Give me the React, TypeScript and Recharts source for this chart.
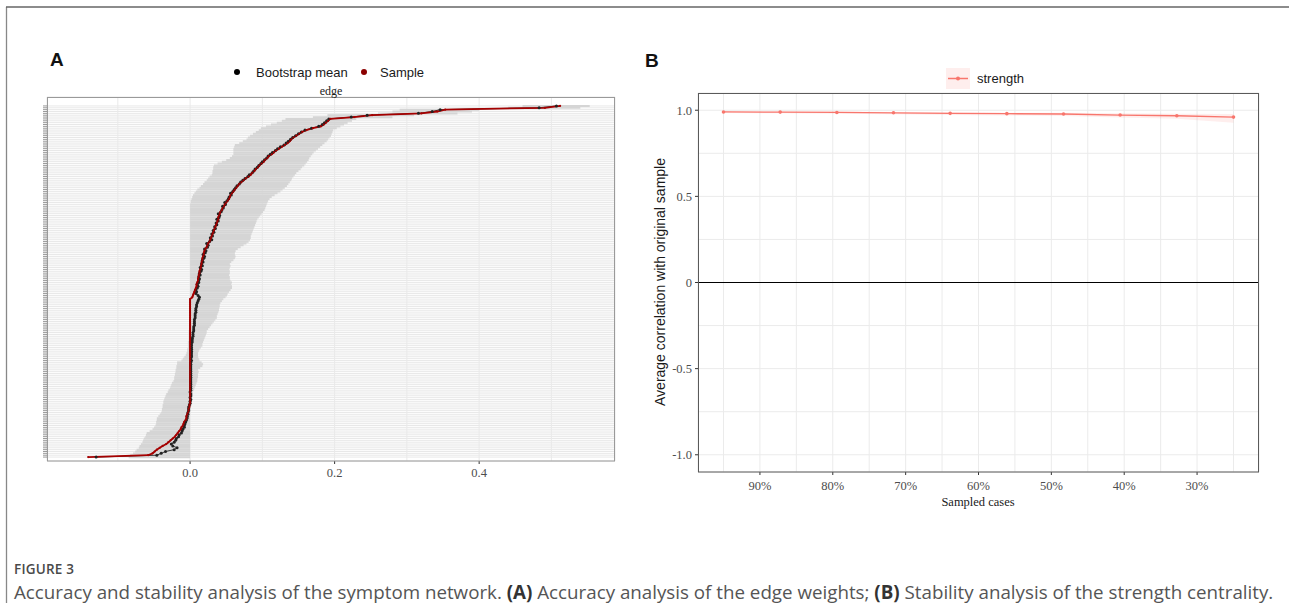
import React from 'react';
import { ComposedChart, Line, Bar, Area, XAxis, YAxis, CartesianGrid, ReferenceLine } from 'recharts';

// ---------------- Panel A : edge weight accuracy (rows bottom -> top) ----------------
const edgeSample = [
  -0.141, -0.058, -0.052, -0.049, -0.046, -0.042, -0.038, -0.033, -0.030, -0.027,
  -0.024, -0.021, -0.019, -0.017, -0.015, -0.013, -0.012, -0.010, -0.009, -0.008,
  -0.006, -0.005, -0.005, -0.004, -0.003, -0.002, -0.002, -0.001, -0.001,
  0, 0, 0, 0, 0, 0, 0, 0, 0, 0,
  0, 0, 0, 0, 0, 0, 0, 0, 0, 0,
  0, 0, 0, 0, 0, 0, 0, 0, 0, 0,
  0, 0, 0, 0, 0, 0, 0, 0, 0, 0,
  0, 0, 0, 0, 0, 0, 0, 0, 0, 0,
  0, 0, 0, 0, 0, 0, 0,
  0.003, 0.004, 0.005, 0.006, 0.007, 0.008, 0.009, 0.009, 0.010, 0.011,
  0.011, 0.012, 0.012, 0.013, 0.013, 0.014, 0.015, 0.015, 0.016, 0.016,
  0.017, 0.017, 0.018, 0.019, 0.019, 0.020, 0.021, 0.023, 0.024, 0.025,
  0.027, 0.028, 0.029, 0.030, 0.031, 0.032, 0.033, 0.034, 0.035, 0.036,
  0.037, 0.038, 0.039, 0.039, 0.040, 0.041, 0.042, 0.044, 0.045, 0.047,
  0.048, 0.050, 0.052, 0.054, 0.055, 0.056, 0.058, 0.060, 0.062, 0.064,
  0.066, 0.068, 0.071, 0.074, 0.077, 0.081, 0.084, 0.086, 0.089, 0.091,
  0.094, 0.096, 0.099, 0.102, 0.104, 0.107, 0.109, 0.113, 0.116, 0.119,
  0.123, 0.127, 0.131, 0.135, 0.138, 0.140, 0.143, 0.147, 0.151, 0.155,
  0.161, 0.170, 0.181, 0.185, 0.188, 0.191, 0.194,
  0.227, 0.252, 0.320, 0.342, 0.353, 0.491, 0.512,
];

const edgeBootMean = [
  -0.130, -0.046, -0.040, -0.034, -0.022, -0.018, -0.024, -0.026, -0.022, -0.020,
  -0.019, -0.016, -0.015, -0.012, -0.011, -0.010, -0.008, -0.008, -0.007, -0.006,
  -0.005, -0.004, -0.004, -0.003, -0.003, -0.002, -0.002, -0.002, -0.001,
  0.000, 0.000, 0.001, 0.000, 0.001, 0.001, 0.000, 0.001, 0.001, 0.001,
  0.001, 0.001, 0.001, 0.001, 0.001, 0.001, 0.001, 0.001, 0.001, 0.001,
  0.001, 0.001, 0.001, 0.002, 0.001, 0.002, 0.002, 0.002, 0.002, 0.002,
  0.002, 0.002, 0.002, 0.003,
  0.003, 0.003, 0.004, 0.004, 0.004, 0.005, 0.005, 0.005, 0.006, 0.006,
  0.006, 0.006, 0.007, 0.007, 0.007, 0.008, 0.008, 0.008, 0.009, 0.009,
  0.010, 0.011, 0.012,
  0.013, 0.011, 0.008, 0.009, 0.008, 0.010, 0.011, 0.010, 0.012, 0.012,
  0.013, 0.012, 0.014, 0.013, 0.015, 0.016, 0.014, 0.017, 0.016, 0.018,
  0.017, 0.019, 0.020, 0.018, 0.021, 0.022, 0.020, 0.024, 0.025, 0.023,
  0.027, 0.030, 0.028, 0.031, 0.030, 0.033, 0.032, 0.035, 0.034, 0.037,
  0.036, 0.039, 0.037, 0.040, 0.041, 0.039, 0.043, 0.044, 0.046, 0.045,
  0.049, 0.048, 0.051, 0.053, 0.054, 0.057, 0.056, 0.059, 0.061, 0.063,
  0.065, 0.068, 0.070, 0.073, 0.076, 0.080, 0.082, 0.086, 0.088, 0.090,
  0.093, 0.095, 0.098, 0.100, 0.103, 0.106, 0.108, 0.111, 0.114, 0.118,
  0.121, 0.125, 0.130, 0.133, 0.136, 0.139, 0.142, 0.146, 0.150, 0.154,
  0.159, 0.168, 0.178, 0.183, 0.186, 0.189, 0.192,
  0.223, 0.245, 0.316, 0.335, 0.346, 0.483, 0.507,
];

const edgeCiLow = [
  -0.085, -0.083, -0.079, -0.076, -0.074, -0.071, -0.070, -0.068, -0.066, -0.065,
  -0.064, -0.062, -0.061, -0.060, -0.056, -0.052, -0.050, -0.048, -0.047, -0.047,
  -0.046, -0.046, -0.044, -0.042, -0.040, -0.039, -0.039, -0.038, -0.038, -0.037,
  -0.037, -0.036, -0.035, -0.034, -0.033, -0.031, -0.030, -0.028, -0.027, -0.026,
  -0.025, -0.023, -0.022, -0.022, -0.021, -0.021, -0.020, -0.020, -0.019, -0.019,
  -0.018, -0.018, -0.012, -0.010, -0.008, -0.006, -0.005, -0.004, -0.004, -0.003,
  -0.003, -0.003, -0.003, -0.002, -0.002, -0.002, -0.002, -0.002, -0.002, -0.001,
  -0.001, -0.001, -0.001, -0.001,
  0, 0, 0, 0, 0, 0, 0, 0, 0, 0,
  0, 0, 0, 0, 0, 0, 0, 0, 0, 0,
  0, 0, 0, 0, 0, 0, 0, 0, 0, 0,
  0, 0, 0, 0, 0, 0, 0, 0, 0, 0,
  0, 0, 0, 0, 0, 0, 0, 0, 0, 0,
  0, 0, 0, 0, 0, 0, 0, 0, 0, 0,
  0, 0,
  0.000, 0.001, 0.001, 0.002, 0.003, 0.004, 0.006, 0.008, 0.010, 0.013,
  0.015, 0.018, 0.020, 0.023, 0.025, 0.027, 0.030, 0.031, 0.031, 0.032,
  0.032, 0.033, 0.038, 0.044, 0.050, 0.055, 0.058, 0.060, 0.060, 0.060,
  0.060, 0.061, 0.062, 0.068, 0.073, 0.078, 0.080, 0.083, 0.087, 0.091,
  0.095, 0.098, 0.105, 0.112, 0.120, 0.127, 0.132,
  0.170, 0.190, 0.260, 0.280, 0.290, 0.440, 0.460,
];

const edgeCiHigh = [
  0.000, 0.000, 0.000, 0.000, 0.000, 0.000, 0.000, 0.000, 0.000, 0.000,
  0.000, 0.000, 0.000, 0.000, 0.000, 0.000, 0.000, 0.000, 0.000, 0.000,
  0.000, 0.000, 0.000, 0.000, 0.000, 0.001, 0.001, 0.001, 0.002, 0.002,
  0.002, 0.003, 0.003, 0.004, 0.004, 0.004, 0.005, 0.006, 0.007, 0.008,
  0.009, 0.010, 0.010, 0.011, 0.011, 0.011, 0.012, 0.011, 0.014, 0.017,
  0.018, 0.016, 0.013, 0.012, 0.011, 0.011, 0.011, 0.012, 0.013, 0.015,
  0.017, 0.017, 0.018, 0.019, 0.020, 0.021, 0.022, 0.023, 0.023, 0.025,
  0.027, 0.029, 0.031, 0.033, 0.035, 0.037, 0.037, 0.038, 0.039, 0.040,
  0.040, 0.041, 0.041, 0.042, 0.044, 0.046, 0.049, 0.051, 0.052, 0.054,
  0.056, 0.058, 0.058, 0.057, 0.058, 0.056, 0.055, 0.055, 0.054, 0.055,
  0.055, 0.054, 0.055, 0.056, 0.055, 0.057, 0.060, 0.062, 0.063, 0.062,
  0.062, 0.063, 0.066, 0.070, 0.074, 0.078, 0.081, 0.083, 0.084, 0.084,
  0.085, 0.086, 0.087, 0.088, 0.089, 0.090, 0.091, 0.092, 0.093, 0.095,
  0.097, 0.099, 0.101, 0.103, 0.104, 0.105, 0.106, 0.107, 0.108, 0.110,
  0.113, 0.117, 0.121, 0.125, 0.128, 0.131, 0.134, 0.136, 0.138, 0.140,
  0.141, 0.143, 0.145, 0.147, 0.150, 0.153, 0.155, 0.158, 0.160, 0.162,
  0.164, 0.165, 0.167, 0.169, 0.171, 0.174, 0.177, 0.180, 0.183, 0.186,
  0.189, 0.191, 0.193, 0.195, 0.196, 0.197, 0.198, 0.203, 0.208, 0.213,
  0.218, 0.224, 0.230, 0.280, 0.310, 0.370, 0.390, 0.400, 0.540, 0.553,
];

const edgeGridTicks = [-0.1, 0, 0.1, 0.2, 0.3, 0.4, 0.5];
const edgeLabelTicks = [0, 0.2, 0.4];
const edgeLegendLabels = ['Bootstrap mean', 'Sample'];

// ---------------- Panel B : strength stability ----------------
const sampledCases = [95, 87.22, 79.44, 71.67, 63.89, 56.11, 48.33, 40.56, 32.78, 25];
const strengthCorr = [0.990, 0.989, 0.987, 0.985, 0.982, 0.980, 0.978, 0.972, 0.968, 0.960];
const strengthLow = [0.984, 0.982, 0.980, 0.977, 0.973, 0.970, 0.966, 0.958, 0.950, 0.928];
const strengthHigh = [0.994, 0.993, 0.992, 0.990, 0.988, 0.986, 0.985, 0.982, 0.980, 0.978];
const caseGridTicks = [95, 90, 85, 80, 75, 70, 65, 60, 55, 50, 45, 40, 35, 30, 25];
const caseLabelTicks = [90, 80, 70, 60, 50, 40, 30];
const corrGridTicks = [-1, -0.75, -0.5, -0.25, 0, 0.25, 0.5, 0.75, 1];
const corrLabelTicks = [-1, -0.5, 0, 0.5, 1];
const corrLabelText = ['-1.0', '-0.5', '0', '0.5', '1.0'];

const edgeData = edgeSample.map((s, i) => ({
  id: `e${i}`,
  sample: s,
  boot: edgeBootMean[i],
  ci: [edgeCiLow[i], edgeCiHigh[i]],
}));

const stabilityData = sampledCases.map((c, i) => ({
  cases: c,
  corr: strengthCorr[i],
  band: [strengthLow[i], strengthHigh[i]],
}));

const SERIF = '"Liberation Serif", "Times New Roman", serif';
const SANS = '"Liberation Sans", Arial, sans-serif';
const CAPTION = '"Open Sans", "Noto Sans", sans-serif';
const SAMPLE_RED = '#a50000';

const EdgeXTick = (props: any) => {
  const { x, y, payload } = props;
  const v = payload.value;
  const idx = edgeLabelTicks.findIndex((t) => Math.abs(t - v) < 1e-9);
  if (idx < 0) return <g />;
  return (
    <g>
      <line x1={x} x2={x} y1={y - 3} y2={y} stroke="#333" strokeWidth={1} />
      <text x={x} y={y + 4} dy="0.71em" textAnchor="middle" fontFamily={SERIF} fontSize={12.5} fill="#4d4d4d">
        {v.toFixed(1)}
      </text>
    </g>
  );
};

const CaseXTick = (props: any) => {
  const { x, y, payload } = props;
  const v = payload.value;
  if (!caseLabelTicks.includes(v)) return <g />;
  return (
    <g>
      <line x1={x} x2={x} y1={y - 3} y2={y} stroke="#333" strokeWidth={1} />
      <text x={x} y={y + 6} dy="0.71em" textAnchor="middle" fontFamily={SERIF} fontSize={12.5} fill="#4d4d4d">
        {`${v}%`}
      </text>
    </g>
  );
};

const CorrYTick = (props: any) => {
  const { x, y, payload } = props;
  const idx = corrLabelTicks.findIndex((t) => Math.abs(t - payload.value) < 1e-9);
  if (idx < 0) return <g />;
  return (
    <g>
      <line x1={x} x2={x + 3} y1={y} y2={y} stroke="#333" strokeWidth={1} />
      <text x={x - 3} y={y} dy="0.35em" textAnchor="end" fontFamily={SERIF} fontSize={12.5} fill="#4d4d4d">
        {corrLabelText[idx]}
      </text>
    </g>
  );
};

export default function App() {
  return (
    <div style={{ position: 'absolute', left: 0, top: 0, width: 1289, height: 603, background: '#fff', overflow: 'hidden' }}>
      {/* Panel A */}
      <div style={{ position: 'absolute', left: 0, top: 0 }}>
        <ComposedChart
          width={640}
          height={500}
          data={edgeData}
          layout="vertical"
          barCategoryGap={0}
          margin={{ top: 97, right: 25, left: 0, bottom: 9 }}
        >
          <CartesianGrid horizontal={true} vertical={false} stroke="#e2e2e2" strokeWidth={0.8} />
          <CartesianGrid horizontal={false} vertical={true} stroke="#e9e9e9" strokeWidth={1} />
          <XAxis
            type="number"
            domain={[-0.198, 0.588]}
            ticks={edgeGridTicks}
            interval={0}
            allowDataOverflow
            height={30}
            tickSize={3}
            tickMargin={0}
            tickLine={false}
            axisLine={false}
            tick={<EdgeXTick />}
          />
          <YAxis
            type="category"
            dataKey="id"
            reversed
            width={47}
            interval={0}
            tickSize={4}
            tickLine={{ stroke: '#555', strokeWidth: 0.6 }}
            axisLine={false}
            tickFormatter={() => ''}
            padding={{ top: 8, bottom: 3 }}
          />
          <Bar dataKey="ci" fill="#d5d5d5" isAnimationActive={false} />
          <Line dataKey="boot" type="linear" stroke="#222" strokeWidth={0.9} dot={false} isAnimationActive={false} />
          <Line dataKey="sample" type="linear" stroke={SAMPLE_RED} strokeWidth={1.8} dot={false} isAnimationActive={false} />
          <Line dataKey="boot" type="linear" stroke="none" dot={{ r: 1.5, fill: '#222', stroke: 'none' }} isAnimationActive={false} />
          <Line dataKey="sample" type="linear" stroke="none" dot={{ r: 1.1, fill: SAMPLE_RED, stroke: 'none' }} isAnimationActive={false} />
        </ComposedChart>
      </div>

      {/* Panel B */}
      <div style={{ position: 'absolute', left: 640, top: 0 }}>
        <ComposedChart
          width={649}
          height={520}
          data={stabilityData}
          margin={{ top: 93, right: 30, left: 0, bottom: 18 }}
        >
          <CartesianGrid stroke="#ebebeb" strokeWidth={1} />
          <XAxis
            type="number"
            dataKey="cases"
            domain={[21.5, 98.5]}
            reversed
            ticks={caseGridTicks}
            interval={0}
            allowDataOverflow
            height={30}
            tickSize={3}
            tickMargin={0}
            tickLine={false}
            axisLine={false}
            tick={<CaseXTick />}
          />
          <YAxis
            type="number"
            domain={[-1.1, 1.1]}
            ticks={corrGridTicks}
            interval={0}
            allowDataOverflow
            width={58}
            tickSize={3}
            tickMargin={0}
            tickLine={false}
            axisLine={false}
            tick={<CorrYTick />}
          />
          <ReferenceLine y={0} stroke="#000" strokeWidth={1} />
          <Area dataKey="band" type="linear" stroke="none" fill="#F8766D" fillOpacity={0.12} isAnimationActive={false} />
          <Line
            dataKey="corr"
            type="linear"
            stroke="#F8766D"
            strokeWidth={1.3}
            dot={{ r: 1.8, fill: '#F8766D', stroke: 'none' }}
            isAnimationActive={false}
          />
        </ComposedChart>
      </div>

      {/* Overlay: frames, titles, legends, caption */}
      <svg width={1289} height={603} style={{ position: 'absolute', left: 0, top: 0, pointerEvents: 'none' }}>
        {/* outer figure frame */}
        <line x1={6.5} x2={6.5} y1={7} y2={603} stroke="#888" strokeWidth={1.3} />
        <line x1={6} x2={1289} y1={7} y2={7} stroke="#666" strokeWidth={1.5} />

        {/* panel frames */}
        <rect x={47.5} y={97.5} width={567} height={363.5} fill="none" stroke="#9a9a9a" strokeWidth={1} />
        <rect x={698.5} y={93.5} width={560} height={378.5} fill="none" stroke="#5a5a5a" strokeWidth={1} />

        {/* panel letters */}
        <text x={50} y={66} fontFamily={SANS} fontWeight="bold" fontSize={19} fill="#111">A</text>
        <text x={645} y={67} fontFamily={SANS} fontWeight="bold" fontSize={19} fill="#111">B</text>

        {/* legend A */}
        <circle cx={237} cy={72} r={3} fill="#000" />
        <text x={256} y={76.5} fontFamily={SANS} fontSize={13} fill="#1a1a1a">{edgeLegendLabels[0]}</text>
        <circle cx={364} cy={72} r={3} fill="#8b0000" />
        <text x={380} y={76.5} fontFamily={SANS} fontSize={13} fill="#1a1a1a">{edgeLegendLabels[1]}</text>
        <text x={331} y={95} textAnchor="middle" fontFamily={SERIF} fontSize={12} fill="#1a1a1a">edge</text>

        {/* legend B */}
        <rect x={946} y={68} width={24} height={21} fill="#F8766D" fillOpacity={0.12} />
        <line x1={948} x2={968} y1={78.5} y2={78.5} stroke="#F8766D" strokeWidth={1.5} />
        <circle cx={958} cy={78.5} r={2} fill="#F8766D" />
        <text x={977} y={83} fontFamily={SANS} fontSize={13} fill="#1a1a1a">strength</text>

        {/* axis titles B */}
        <text
          x={0}
          y={0}
          transform="translate(665 282) rotate(-90)"
          textAnchor="middle"
          fontFamily={SANS}
          fontSize={14}
          fill="#1a1a1a"
        >
          Average correlation with original sample
        </text>
        <text x={978} y={506} textAnchor="middle" fontFamily={SERIF} fontSize={12.5} fill="#1a1a1a">Sampled cases</text>

        {/* caption */}
        <text x={14} y={574} fontFamily={CAPTION} fontSize={13.5} fontWeight={600} fill="#4a4a4a" letterSpacing={0.2}>
          FIGURE 3
        </text>
        <text x={14} y={599} fontFamily={CAPTION} fontSize={18.75} fill="#555">
          <tspan>Accuracy and stability analysis of the symptom network. </tspan>
          <tspan fontWeight="bold" fill="#333">(A)</tspan>
          <tspan> Accuracy analysis of the edge weights; </tspan>
          <tspan fontWeight="bold" fill="#333">(B)</tspan>
          <tspan> Stability analysis of the strength centrality.</tspan>
        </text>
      </svg>
    </div>
  );
}
